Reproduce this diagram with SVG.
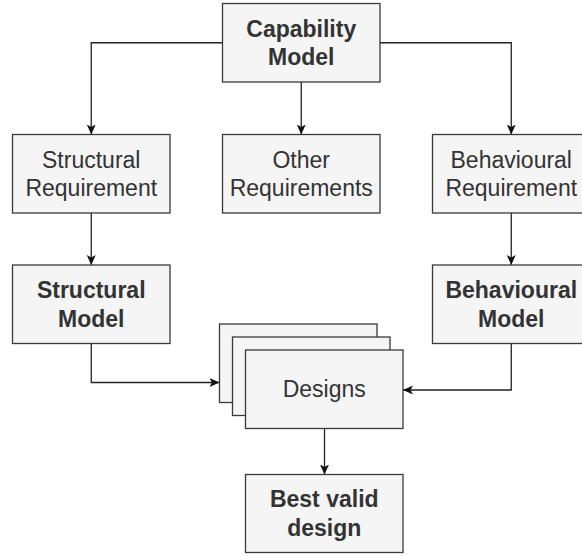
<svg xmlns="http://www.w3.org/2000/svg" width="582" height="556" viewBox="0 0 582 556">
<defs>
<style>
.box{fill:#f5f5f5;stroke:#3a3a3a;stroke-width:1.3}
.t{font-family:"Liberation Sans",Arial,Helvetica,sans-serif;font-size:23px;fill:#333;text-anchor:middle}
.b{font-weight:bold}
.c{fill:none;stroke:#222;stroke-width:1.3}
</style>
<marker id="arr" viewBox="0 0 10 10" refX="10" refY="5" markerWidth="10" markerHeight="10" markerUnits="userSpaceOnUse" orient="auto">
<path d="M0,0.5 L10,5 L0,9.5 L2.5,5 Z" fill="#111"/>
</marker>
</defs>
<rect width="582" height="556" fill="#fff"/>
<g id="connectors">
<path class="c" d="M222.5,42.75 H91.25 V134.5" marker-end="url(#arr)"/>
<path class="c" d="M380,42.75 H511.25 V134.5" marker-end="url(#arr)"/>
<path class="c" d="M301.25,82 V134.5" marker-end="url(#arr)"/>
<path class="c" d="M91.25,213 V265" marker-end="url(#arr)"/>
<path class="c" d="M511.25,213 V265" marker-end="url(#arr)"/>
<path class="c" d="M91.25,343.5 V382.5 H219.5" marker-end="url(#arr)"/>
<path class="c" d="M511.25,343.5 V390 H403" marker-end="url(#arr)"/>
<path class="c" d="M324.5,428.5 V474.5" marker-end="url(#arr)"/>
</g>
<g id="capability">
<rect class="box" x="222.5" y="3.5" width="157.5" height="78.5"/>
<text class="t b" x="301.25" y="36.5">Capability</text>
<text class="t b" x="301.25" y="65">Model</text>
</g>
<g id="structural-requirement">
<rect class="box" x="12.5" y="134.5" width="157.5" height="78.5"/>
<text class="t" x="91.25" y="167.5">Structural</text>
<text class="t" x="91.25" y="196.1">Requirement</text>
</g>
<g id="other-requirements">
<rect class="box" x="222.5" y="134.5" width="157.5" height="78.5"/>
<text class="t" x="301.25" y="167.5">Other</text>
<text class="t" x="301.25" y="196.1">Requirements</text>
</g>
<g id="behavioural-requirement">
<rect class="box" x="432.5" y="134.5" width="157.5" height="78.5"/>
<text class="t" x="511.25" y="167.5">Behavioural</text>
<text class="t" x="511.25" y="196.1">Requirement</text>
</g>
<g id="structural-model">
<rect class="box" x="12.5" y="265" width="157.5" height="78.5"/>
<text class="t b" x="91.25" y="298">Structural</text>
<text class="t b" x="91.25" y="326.6">Model</text>
</g>
<g id="behavioural-model">
<rect class="box" x="432.5" y="265" width="157.5" height="78.5"/>
<text class="t b" x="511.25" y="298">Behavioural</text>
<text class="t b" x="511.25" y="326.6">Model</text>
</g>
<g id="designs">
<rect class="box" x="219.5" y="324" width="157.5" height="78.5"/>
<rect class="box" x="232.5" y="337" width="157.5" height="78.5"/>
<rect class="box" x="245.5" y="350" width="157.5" height="78.5"/>
<text class="t" x="324.25" y="397.3">Designs</text>
</g>
<g id="best-valid-design">
<rect class="box" x="245.5" y="474.5" width="157.5" height="78"/>
<text class="t b" x="324.25" y="507.3">Best valid</text>
<text class="t b" x="324.25" y="535.9">design</text>
</g>
</svg>
